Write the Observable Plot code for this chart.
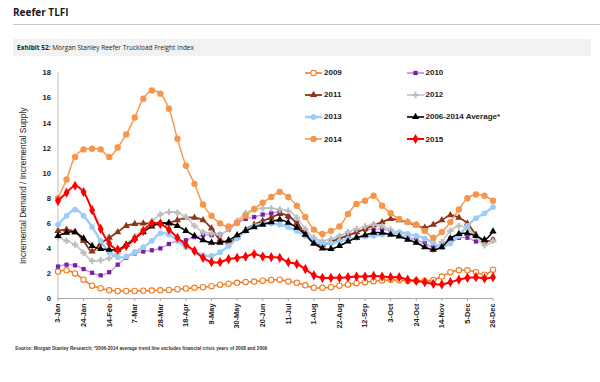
<!DOCTYPE html>
<html><head><meta charset="utf-8">
<script src="https://cdn.jsdelivr.net/npm/d3@7"></script>
<script src="https://cdn.jsdelivr.net/npm/@observablehq/plot@0.6"></script>
<style>
body{margin:0;background:#fff;width:600px;height:382px;position:relative;overflow:hidden;font-family:"Liberation Sans",Arial,sans-serif;}
#title{position:absolute;left:13px;top:5px;font-family:"Open Sans";font-weight:700;font-size:10px;color:#1a1a1a;white-space:nowrap;}
#rule{position:absolute;left:13px;top:24px;width:587px;height:1px;background:#c8c8c8;}
#exhibit{position:absolute;left:13px;top:39px;width:574px;height:17px;background:#f2f2f2;font-family:"Open Sans";font-size:6.5px;line-height:17px;padding-left:4px;color:#222;white-space:nowrap;}
#chart{position:absolute;left:0;top:56px;}
#chart g[aria-label="y-axis tick label"], #chart g[aria-label="x-axis tick label"]{font-weight:bold;}
#chart g[aria-label="y-axis label"]{font-size:8.4px;}
.leg{position:absolute;height:12px;display:flex;align-items:center;font-weight:bold;font-size:8px;color:#1a1a1a;white-space:nowrap;}
.leg svg{margin-right:1px;}
#note{position:absolute;left:15px;top:346px;font-size:4.7px;font-weight:bold;color:#333;white-space:nowrap;}
</style></head>
<body>
<div id="title">Reefer TLFI</div>
<div id="rule"></div>
<div id="exhibit"><b>Exhibit 52:</b> Morgan Stanley Reefer Truckload Freight Index</div>
<div id="chart"></div>
<div id="legend"></div>
<div id="note">Source: Morgan Stanley Research; *2006-2014 average trend line excludes financial crisis years of 2008 and 2009</div>
<script>
const weeks = d3.range(52);
const tickWeeks = [0,3,6,9,12,15,18,21,24,27,30,33,36,39,42,45,48,51];
const tickLabels = ["3-Jan","24-Jan","14-Feb","7-Mar","28-Mar","18-Apr","9-May","30-May","20-Jun","11-Jul","1-Aug","22-Aug","12-Sep","3-Oct","24-Oct","14-Nov","5-Dec","26-Dec"];
const yTicks = [0,2,4,6,8,10,12,14,16,18];
const seriesNames = ["2009","2010","2011","2012","2013","2006-2014 Average*","2014","2015"];

const s2009 = [2.15,2.25,2.0,1.5,1.02,0.82,0.65,0.6,0.6,0.6,0.62,0.63,0.65,0.68,0.74,0.8,0.85,0.9,0.98,1.1,1.18,1.25,1.32,1.35,1.42,1.48,1.5,1.35,1.25,1.05,0.85,0.85,0.9,1.02,1.12,1.22,1.3,1.38,1.43,1.5,1.45,1.4,1.42,1.4,1.48,1.75,2.1,2.25,2.25,2.1,1.9,2.3];
const s2010 = [2.55,2.7,2.65,2.35,2.05,1.85,2.1,2.7,3.25,3.6,3.75,3.85,4.0,4.35,4.6,4.65,4.9,5.05,5.05,5.1,5.5,6.0,6.35,6.5,6.7,6.8,6.9,6.5,6.05,5.3,4.6,4.4,4.5,4.8,5.1,5.3,5.5,5.5,5.55,5.35,5.1,4.9,4.7,4.4,4.1,4.3,4.8,4.85,4.85,4.55,4.5,4.7];
const s2011 = [5.4,5.5,5.3,4.6,3.75,4.4,4.85,5.3,5.8,5.95,6.0,6.0,6.05,6.05,6.25,6.45,6.45,6.25,5.6,4.7,4.5,4.9,5.5,5.9,6.2,6.45,6.75,6.6,6.0,5.15,4.4,4.25,4.5,4.8,5.0,5.3,5.55,5.85,6.1,6.35,6.25,6.1,5.85,5.65,5.9,6.25,6.65,6.45,6.0,5.1,4.6,4.65];
const s2012 = [4.9,4.6,4.3,3.65,3.0,3.05,3.2,3.6,4.3,4.95,5.5,6.15,6.7,6.9,6.85,6.5,5.8,5.3,5.2,5.1,5.55,6.2,6.8,7.1,7.2,7.2,7.1,7.0,6.45,5.55,4.85,4.6,4.75,5.0,5.3,5.55,5.75,5.9,5.75,5.5,5.15,4.85,4.55,4.2,3.9,4.5,5.4,5.8,5.55,5.0,4.25,4.6];
const s2013 = [5.9,6.6,7.1,6.6,5.7,4.6,3.7,3.3,3.35,3.7,4.1,4.6,5.2,5.1,4.6,4.1,3.8,3.45,3.4,3.7,4.2,4.8,5.4,5.8,5.95,6.0,5.9,5.7,5.4,5.0,4.6,4.4,4.4,4.55,4.75,4.85,4.95,5.0,5.1,5.2,5.3,5.15,5.0,4.8,4.45,4.1,4.4,5.0,5.8,6.4,6.8,7.3];
const sAvg = [5.0,5.25,5.3,4.8,4.2,3.95,3.9,3.9,4.3,4.8,5.3,5.75,6.0,6.0,5.8,5.4,5.0,4.65,4.45,4.45,4.65,5.05,5.4,5.7,5.9,6.1,6.3,6.05,5.65,5.1,4.4,4.0,3.95,4.2,4.55,4.85,5.05,5.25,5.25,5.1,4.95,4.7,4.45,4.1,3.9,4.1,4.8,5.15,5.2,5.0,4.7,5.35];
const s2014 = [8.0,9.5,11.3,11.9,11.95,11.9,11.3,12.05,13.1,14.45,15.95,16.6,16.35,15.15,12.75,10.6,9.15,7.5,6.6,6.0,5.75,6.05,6.6,7.15,7.65,8.1,8.5,8.1,7.4,6.5,5.5,5.15,5.4,5.75,6.75,7.55,7.8,8.2,7.4,6.8,6.35,6.1,5.9,5.4,4.85,5.3,6.1,7.1,8.0,8.3,8.2,7.8];
const s2015 = [7.8,8.45,9.0,8.5,7.05,5.55,4.4,3.9,4.2,4.75,5.4,6.0,5.95,5.5,4.85,4.3,3.8,3.25,2.9,2.9,3.15,3.25,3.35,3.55,3.35,3.3,3.25,2.9,2.75,2.35,1.85,1.65,1.65,1.65,1.7,1.75,1.75,1.8,1.75,1.7,1.7,1.5,1.4,1.3,1.17,1.12,1.3,1.5,1.65,1.7,1.6,1.7];

const seriesValues = [s2009, s2010, s2011, s2012, s2013, sAvg, s2014, s2015];
const styles = [
  {line:"#F07C22", width:1.5, symbol:"circle", r:2.7, fill:"#ffffff", mstroke:"#F07C22"},
  {line:"#C38AE6", width:1.2, symbol:"square", r:2.4, fill:"#7A1FA8", mstroke:"none"},
  {line:"#8E3518", width:1.8, symbol:"triangle", r:2.7, fill:"#8E3518", mstroke:"none"},
  {line:"#C4C4C4", width:1.6, symbol:"cross", r:2.7, fill:"#BDBDBD", mstroke:"none"},
  {line:"#9CCDF7", width:2.4, symbol:"circle", r:2.9, fill:"#9CCDF7", mstroke:"none"},
  {line:"#000000", width:1.5, symbol:"triangle", r:2.7, fill:"#000000", mstroke:"none"},
  {line:"#F79A50", width:1.5, symbol:"circle", r:3.2, fill:"#F7964A", mstroke:"none"},
  {line:"#FF0000", width:2.0, symbol:"diamond", r:3.1, fill:"#FF0000", mstroke:"none"}
];

const marks = [
  Plot.ruleY([yTicks[0]], {stroke:"#a8a8a8"}),
  Plot.ruleX([weeks[0]], {stroke:"#bdbdbd"}),
  Plot.axisY({ticks:yTicks, tickSize:0, tickPadding:7, fontSize:7.6, label:"Incremental Demand / Incremental Supply", labelAnchor:"center", labelArrow:"none", labelOffset:38}),
  Plot.axisX({ticks:tickWeeks, tickFormat:d=>tickLabels[tickWeeks.indexOf(d)], tickRotate:-90, tickSize:3, tickPadding:2, fontSize:7.4, stroke:"#a8a8a8", label:null})
];
seriesValues.forEach((vals, k) => {
  const st = styles[k];
  marks.push(Plot.line(vals, {x:(d,i)=>weeks[i], y:d=>d, stroke:st.line, strokeWidth:st.width, curve:"catmull-rom"}));
  marks.push(Plot.dot(vals, {x:(d,i)=>weeks[i], y:d=>d, symbol:st.symbol, r:st.r, fill:st.fill, stroke:st.mstroke, strokeWidth:1.1}));
});

const chart = Plot.plot({
  width:600, height:282,
  marginLeft:57.5, marginRight:107.5, marginTop:16.5, marginBottom:40,
  x:{domain:[weeks[0], weeks[weeks.length-1]]},
  y:{domain:[yTicks[0], yTicks[yTicks.length-1]]},
  style:{fontFamily:'"Liberation Sans", Arial, sans-serif', fontSize:"7.5px", color:"#222", background:"transparent", overflow:"visible"},
  marks
});
document.getElementById("chart").appendChild(chart);

// legend
const legend = document.getElementById("legend");
const colX = [305, 406.5];
const rowY = [72.7, 94.5, 116.8, 139.3];
const symMap = {circle:d3.symbolCircle, square:d3.symbolSquare, triangle:d3.symbolTriangle, cross:d3.symbolCross, diamond:d3.symbolDiamond};
seriesNames.forEach((name, k) => {
  const st = styles[k];
  const div = document.createElement("div");
  div.className = "leg";
  div.style.left = colX[k % 2] + "px";
  div.style.top = (rowY[Math.floor(k / 2)] - 6) + "px";
  const svg = d3.create("svg").attr("width", 18).attr("height", 12);
  svg.append("line").attr("x1", 0).attr("x2", 17).attr("y1", 6).attr("y2", 6).attr("stroke", st.line).attr("stroke-width", Math.max(st.width, 1.6));
  svg.append("path").attr("d", d3.symbol(symMap[st.symbol], Math.PI * st.r * st.r)())
    .attr("transform", "translate(8.5,6)").attr("fill", st.fill).attr("stroke", st.mstroke).attr("stroke-width", 1.1);
  div.appendChild(svg.node());
  const span = document.createElement("span");
  span.textContent = name;
  div.appendChild(span);
  legend.appendChild(div);
});
</script>
</body></html>
